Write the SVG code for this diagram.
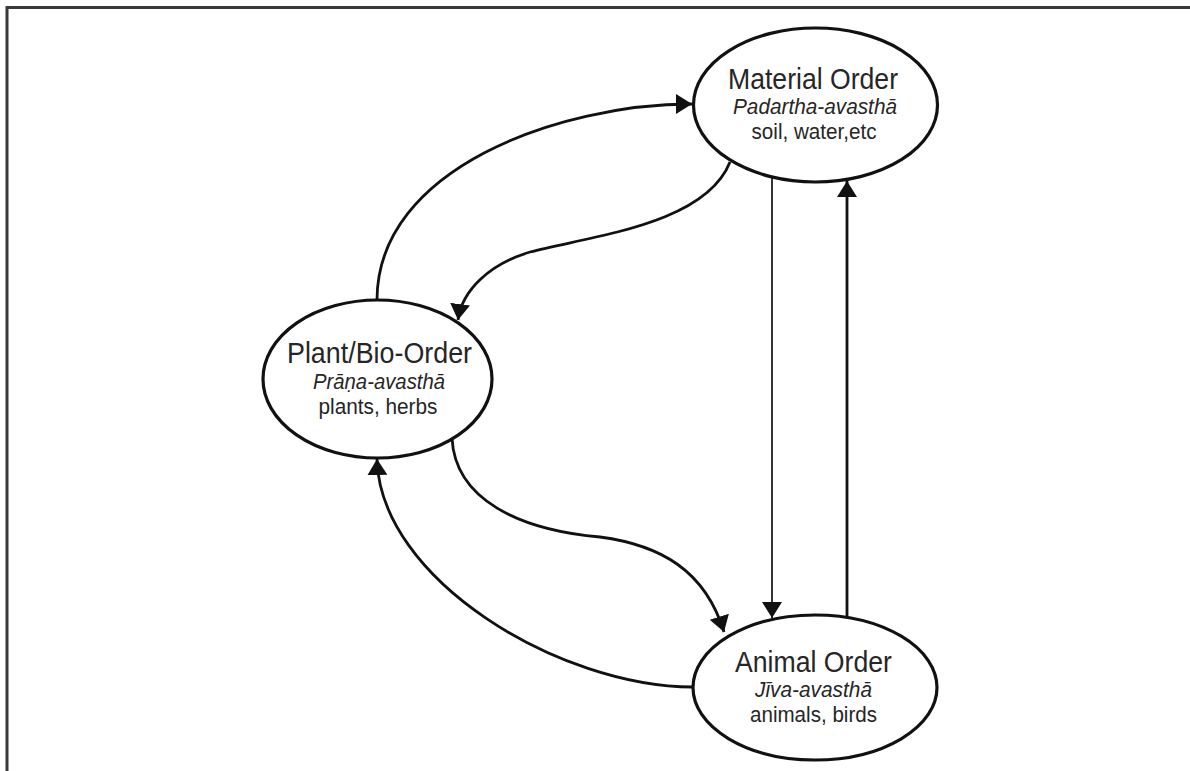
<svg xmlns="http://www.w3.org/2000/svg" width="1190" height="771" viewBox="0 0 1190 771">
  <style>
    .node ellipse { fill: #ffffff; stroke: #111111; stroke-width: 3.2; }
    .title { font-family: "Liberation Sans", Arial, sans-serif; font-size: 29px; fill: #262626; text-anchor: middle; }
    .sub { font-family: "Liberation Sans", Arial, sans-serif; font-size: 22px; font-style: italic; fill: #262626; text-anchor: middle; }
    .ex { font-family: "Liberation Sans", Arial, sans-serif; font-size: 22px; fill: #262626; text-anchor: middle; }
    .conn path, .conn line { fill: none; stroke: #111111; stroke-width: 2.8; }
    .conn .thin { stroke-width: 1.7; }
  </style>
  <defs>
    <marker id="arrow" markerUnits="userSpaceOnUse" markerWidth="18" markerHeight="22" refX="16" refY="10" orient="auto">
      <path d="M0,0 L16,10 L0,20 z" fill="#111111"/>
    </marker>
  </defs>
  <rect width="1190" height="771" fill="#ffffff"/>
  <g id="frame">
    <path d="M7,771 L7,7.5 L1190,7.5" fill="none" stroke="#3a3a3a" stroke-width="3"/>
  </g>
  <g id="connectors" class="conn">
    <path d="M377,300 C377,168 560,104 692,104" marker-end="url(#arrow)"/>
    <path d="M730,162 C705,225 590,236 530,252 C490,264 462,290 458,320" marker-end="url(#arrow)"/>
    <path d="M452,438 C455,500 520,530 600,537 C660,545 705,570 724,632" marker-end="url(#arrow)"/>
    <path d="M693,687 C560,687 380,580 377,459" marker-end="url(#arrow)"/>
    <line class="thin" x1="772" y1="177" x2="772" y2="618" marker-end="url(#arrow)"/>
    <line x1="847" y1="617" x2="847" y2="181" marker-end="url(#arrow)"/>
  </g>
  <g id="material-order" class="node">
    <ellipse cx="815.5" cy="105" rx="122" ry="77"/>
    <text class="title" x="813" y="89" textLength="170" lengthAdjust="spacingAndGlyphs">Material Order</text>
    <text class="sub" x="815" y="114" textLength="164" lengthAdjust="spacingAndGlyphs">Padartha-avasthā</text>
    <text class="ex" x="814" y="139" textLength="125" lengthAdjust="spacingAndGlyphs">soil, water,etc</text>
  </g>
  <g id="plant-order" class="node">
    <ellipse cx="377.5" cy="379" rx="114.5" ry="79"/>
    <text class="title" x="379.5" y="363" textLength="185" lengthAdjust="spacingAndGlyphs">Plant/Bio-Order</text>
    <text class="sub" x="379" y="388.5" textLength="132" lengthAdjust="spacingAndGlyphs">Prāṇa-avasthā</text>
    <text class="ex" x="378" y="413.5" textLength="119" lengthAdjust="spacingAndGlyphs">plants, herbs</text>
  </g>
  <g id="animal-order" class="node">
    <ellipse cx="815" cy="687.5" rx="122" ry="72.5"/>
    <text class="title" x="813.5" y="671.5" textLength="157" lengthAdjust="spacingAndGlyphs">Animal Order</text>
    <text class="sub" x="813.5" y="697" textLength="117" lengthAdjust="spacingAndGlyphs">Jīva-avasthā</text>
    <text class="ex" x="813.5" y="722" textLength="127" lengthAdjust="spacingAndGlyphs">animals, birds</text>
  </g>
</svg>
